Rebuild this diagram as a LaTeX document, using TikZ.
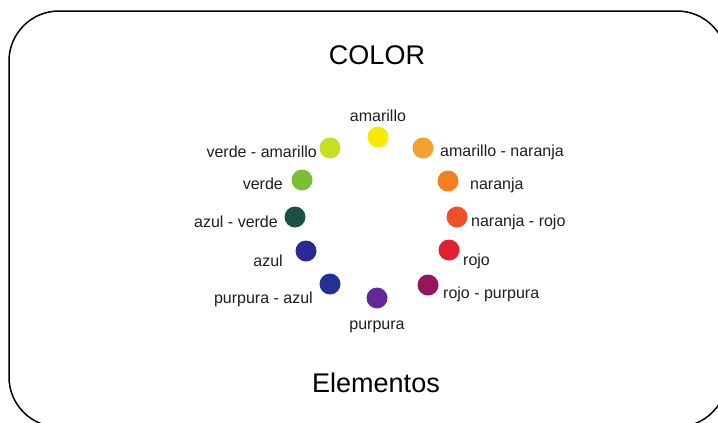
\documentclass[tikz,border=0pt]{standalone}
\usepackage{fontspec}
\setmainfont{Liberation Sans}
\definecolor{cAm}{RGB}{247,234,0}
\definecolor{cVA}{RGB}{200,222,35}
\definecolor{cAN}{RGB}{242,160,48}
\definecolor{cVe}{RGB}{122,192,52}
\definecolor{cNa}{RGB}{242,128,30}
\definecolor{cAV}{RGB}{28,82,68}
\definecolor{cNR}{RGB}{236,82,38}
\definecolor{cAz}{RGB}{42,42,150}
\definecolor{cRo}{RGB}{230,30,50}
\definecolor{cPA}{RGB}{36,48,148}
\definecolor{cRP}{RGB}{150,22,92}
\definecolor{cPu}{RGB}{102,40,150}
\definecolor{ctxt}{RGB}{30,30,30}
\tikzset{
  dot/.style={circle, inner sep=0pt, minimum size=21pt, draw=none},
  lbl/.style={font=\fontsize{16}{19}\selectfont, text=ctxt, inner sep=0pt},
  title/.style={font=\fontsize{27}{32}\selectfont, text=black, inner sep=0pt},
  frame/.style={draw=black, line width=1.5pt, rounded corners=50pt}
}
\begin{document}
\begin{tikzpicture}[x=1pt,y=-1pt]
\useasboundingbox (0,0) rectangle (718,423);
\clip (0,0) rectangle (718,423);
\fill[white] (0,0) rectangle (718,423);
\draw[frame] (9,11) rectangle (727,427);
\node[title] (t1) at (377,55) {COLOR};
\node[title] (t2) at (376,383) {Elementos};
% dots
\node[dot, fill=cAm] (d1) at (378,137) {};
\node[dot, fill=cVA] (d2) at (330,148) {};
\node[dot, fill=cAN] (d3) at (423,148) {};
\node[dot, fill=cVe] (d4) at (302,180) {};
\node[dot, fill=cNa] (d5) at (448,181) {};
\node[dot, fill=cAV] (d6) at (295,217) {};
\node[dot, fill=cNR] (d7) at (457,217) {};
\node[dot, fill=cAz] (d8) at (306,251) {};
\node[dot, fill=cRo] (d9) at (449,250) {};
\node[dot, fill=cPA] (d10) at (330,284) {};
\node[dot, fill=cRP] (d11) at (428,285) {};
\node[dot, fill=cPu] (d12) at (377,298) {};
% labels
\node[lbl, anchor=base] (l1) at (378,121) {amarillo};
\node[lbl, anchor=base east] (l2) at (317,157) {verde - amarillo};
\node[lbl, anchor=base west] (l3) at (440,156) {amarillo - naranja};
\node[lbl, anchor=base east] (l4) at (283,189) {verde};
\node[lbl, anchor=base west] (l5) at (470,189) {naranja};
\node[lbl, anchor=base east] (l6) at (278,227) {azul - verde};
\node[lbl, anchor=base west] (l7) at (471,226) {naranja - rojo};
\node[lbl, anchor=base east] (l8) at (283,266) {azul};
\node[lbl, anchor=base west] (l9) at (463,265) {rojo};
\node[lbl, anchor=base east] (l10) at (313,303) {purpura - azul};
\node[lbl, anchor=base west] (l11) at (443,298) {rojo - purpura};
\node[lbl, anchor=base] (l12) at (377,329) {purpura};
\end{tikzpicture}
\end{document}
